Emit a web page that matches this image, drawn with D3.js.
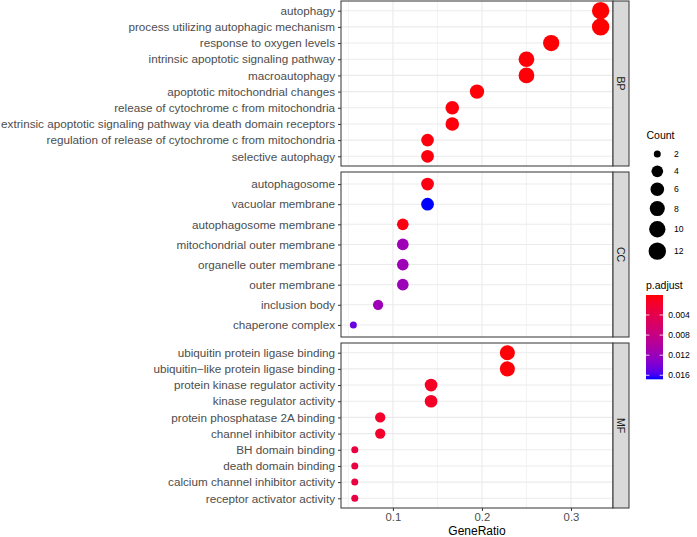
<!DOCTYPE html>
<html>
<head>
<meta charset="utf-8">
<script src="https://cdn.jsdelivr.net/npm/d3@7"></script>
<style>
	body { margin: 0; background: #fff; }
	text { font-family: "Liberation Sans", Arial, sans-serif; }
</style>
</head>
<body>
<div class="chart"></div>
<script>
// GO enrichment dot plot, three facets

const bpTerms = [
	"autophagy",
	"process utilizing autophagic mechanism",
	"response to oxygen levels",
	"intrinsic apoptotic signaling pathway",
	"macroautophagy",
	"apoptotic mitochondrial changes",
	"release of cytochrome c from mitochondria",
	"extrinsic apoptotic signaling pathway via death domain receptors",
	"regulation of release of cytochrome c from mitochondria",
	"selective autophagy"
]
const bpCount = [12, 12, 10, 9, 9, 7, 6, 6, 5, 5]
const bpRatio = ["12/36", "12/36", "10/36", "9/36", "9/36", "7/36", "6/36", "6/36", "5/36", "5/36"]
const bpPadj = [0.00002, 0.00002, 0.0001, 0.0002, 0.0002, 0.0002, 0.0003, 0.0003, 0.0004, 0.0004]

const ccTerms = [
	"autophagosome",
	"vacuolar membrane",
	"autophagosome membrane",
	"mitochondrial outer membrane",
	"organelle outer membrane",
	"outer membrane",
	"inclusion body",
	"chaperone complex"
]
const ccCount = [5, 5, 4, 4, 4, 4, 3, 2]
const ccRatio = ["5/36", "5/36", "4/36", "4/36", "4/36", "4/36", "3/36", "2/36"]
const ccPadj = [0.0005, 0.0168, 0.0005, 0.0117, 0.0117, 0.0118, 0.0117, 0.0148]

const mfTerms = [
	"ubiquitin protein ligase binding",
	"ubiquitin\u2212like protein ligase binding",
	"protein kinase regulator activity",
	"kinase regulator activity",
	"protein phosphatase 2A binding",
	"channel inhibitor activity",
	"BH domain binding",
	"death domain binding",
	"calcium channel inhibitor activity",
	"receptor activator activity"
]
const mfCount = [8, 8, 5, 5, 3, 3, 2, 2, 2, 2]
const mfRatio = ["8/35", "8/35", "5/35", "5/35", "3/35", "3/35", "2/35", "2/35", "2/35", "2/35"]
const mfPadj = [0.0002, 0.0002, 0.0014, 0.0015, 0.0019, 0.0019, 0.0032, 0.0032, 0.0032, 0.0033]

const xTicks = [0.1, 0.2, 0.3]
const countBreaks = [2, 4, 6, 8, 10, 12]
const padjBreaks = [0.004, 0.008, 0.012, 0.016]

const svgWidth = 697
const svgHeight = 537

let panelLeft = 341
let panelRight = 613
let stripWidth = 16
let panelTop = 1
let panelGap = 6
let panelHeight = 165

function parseRatio(s) {
	let parts = s.split("/")
	return +parts[0] / +parts[1]
}

function makeRows(terms, counts, ratios, padj) {
	return terms.map((t, i) => ({
		term: t,
		count: counts[i],
		ratio: parseRatio(ratios[i]),
		padj: padj[i]
	}))
}

let facets = [
	{ name: "BP", rows: makeRows(bpTerms, bpCount, bpRatio, bpPadj) },
	{ name: "CC", rows: makeRows(ccTerms, ccCount, ccRatio, ccPadj) },
	{ name: "MF", rows: makeRows(mfTerms, mfCount, mfRatio, mfPadj) }
]

let allRows = facets.flatMap(f => f.rows)

let svg = d3.select(".chart")
	.append("svg")
	.attr("width", svgWidth)
	.attr("height", svgHeight)

// x scale with ggplot style 5% expansion
let xExt = d3.extent(allRows, d => d.ratio)
let xPad = (xExt[1] - xExt[0]) * 0.05
let xScale = d3.scaleLinear()
	.domain([xExt[0] - xPad, xExt[1] + xPad])
	.range([panelLeft, panelRight])

let countExt = d3.extent(allRows, d => d.count)
let rScale = d3.scaleLinear()
	.domain([0, 1])
	.range([3.5, 8.7])
function radius(c) {
	return rScale(Math.sqrt((c - countExt[0]) / (countExt[1] - countExt[0])))
}

let padjExt = d3.extent(allRows, d => d.padj)
let colorScale = d3.scaleLinear()
	.domain(padjExt)
	.range(["red", "blue"])
	.interpolate(d3.interpolateLab)

let minorTicks = xTicks.map(v => v - 0.05).concat([xTicks[xTicks.length - 1] + 0.05])
	.filter(v => v >= xScale.domain()[0] && v <= xScale.domain()[1])

facets.forEach((f, i) => {
	let top = panelTop + i * (panelHeight + panelGap)
	let bottom = top + panelHeight

	let yScale = d3.scalePoint()
		.domain(f.rows.map(d => d.term))
		.range([top, bottom])
		.padding(0.6)

	let g = svg.append("g")

	g.append("rect")
		.attr("x", panelLeft)
		.attr("y", top)
		.attr("width", panelRight - panelLeft)
		.attr("height", panelHeight)
		.attr("fill", "#fff")

	// grid
	g.selectAll(".minor")
		.data(minorTicks)
		.enter()
		.append("line")
		.attr("x1", d => xScale(d))
		.attr("x2", d => xScale(d))
		.attr("y1", top)
		.attr("y2", bottom)
		.attr("stroke", "#ebebeb")
		.attr("stroke-width", 0.6)

	g.selectAll(".major")
		.data(xTicks)
		.enter()
		.append("line")
		.attr("x1", d => xScale(d))
		.attr("x2", d => xScale(d))
		.attr("y1", top)
		.attr("y2", bottom)
		.attr("stroke", "#ebebeb")
		.attr("stroke-width", 1.1)

	g.selectAll(".hgrid")
		.data(f.rows)
		.enter()
		.append("line")
		.attr("x1", panelLeft)
		.attr("x2", panelRight)
		.attr("y1", d => yScale(d.term))
		.attr("y2", d => yScale(d.term))
		.attr("stroke", "#ebebeb")
		.attr("stroke-width", 1.1)

	// points
	g.selectAll("circle")
		.data(f.rows)
		.enter()
		.append("circle")
		.attr("cx", d => xScale(d.ratio))
		.attr("cy", d => yScale(d.term))
		.attr("r", d => radius(d.count))
		.attr("fill", d => colorScale(d.padj))

	g.append("rect")
		.attr("x", panelLeft)
		.attr("y", top)
		.attr("width", panelRight - panelLeft)
		.attr("height", panelHeight)
		.attr("fill", "none")
		.attr("stroke", "#333")
		.attr("stroke-width", 1)

	// y axis
	let leftAxis = d3.axisLeft(yScale).tickSize(3).tickPadding(3)
	let yAxis = g.append("g")
		.attr("transform", `translate(${panelLeft}, 0)`)
		.call(leftAxis)
	yAxis.select(".domain").remove()
	yAxis.selectAll("line").attr("stroke", "#333")
	yAxis.selectAll("text")
		.attr("fill", "#4d4d4d")
		.style("font-size", "11.7px")
		.style("font-family", "'Liberation Sans', Arial, sans-serif")

	// strip
	g.append("rect")
		.attr("x", panelRight)
		.attr("y", top)
		.attr("width", stripWidth)
		.attr("height", panelHeight)
		.attr("fill", "#d9d9d9")
		.attr("stroke", "#333")
		.attr("stroke-width", 1)

	g.append("text")
		.attr("transform", `translate(${panelRight + stripWidth / 2}, ${top + panelHeight / 2}) rotate(90)`)
		.attr("text-anchor", "middle")
		.attr("dy", "0.35em")
		.attr("fill", "#1a1a1a")
		.style("font-size", "10.5px")
		.text(f.name)

	if (i == facets.length - 1) {
		let bottomAxis = d3.axisBottom(xScale)
			.tickValues(xTicks)
			.tickFormat(d3.format(".1f"))
			.tickSize(3)
			.tickPadding(2)
		let xAxis = g.append("g")
			.attr("transform", `translate(0, ${bottom})`)
			.call(bottomAxis)
		xAxis.select(".domain").remove()
		xAxis.selectAll("line").attr("stroke", "#333")
		xAxis.selectAll("text")
			.attr("fill", "#4d4d4d")
			.style("font-size", "11.3px")
			.style("font-family", "'Liberation Sans', Arial, sans-serif")

		g.append("text")
			.attr("x", (panelLeft + panelRight) / 2)
			.attr("y", 534.5)
			.attr("text-anchor", "middle")
			.attr("fill", "#000")
			.style("font-size", "12px")
			.text("GeneRatio")
	}
})

// size legend
let legendX = 646.5
let sizeLegend = svg.append("g")

sizeLegend.append("text")
	.attr("x", legendX)
	.attr("y", 139)
	.style("font-size", "10.5px")
	.text("Count")

let keyY = 154 - 17.3 / 2
countBreaks.forEach(c => {
	let r = radius(c)
	let h = Math.max(17.3, 2 * r + 5)
	let cy = keyY + h / 2
	sizeLegend.append("circle")
		.attr("cx", 657.3)
		.attr("cy", cy)
		.attr("r", r)
		.attr("fill", "#000")
	sizeLegend.append("text")
		.attr("x", 674)
		.attr("y", cy)
		.attr("dy", "0.35em")
		.style("font-size", "8.6px")
		.text(c)
	keyY += h
})

// colour legend
let barTop = 295
let barBottom = 379.3
let barX = 646
let barW = 17

let colorLegend = svg.append("g")

colorLegend.append("text")
	.attr("x", legendX - 0.5)
	.attr("y", 289)
	.style("font-size", "10.5px")
	.text("p.adjust")

let grad = svg.append("defs")
	.append("linearGradient")
	.attr("id", "padj-grad")
	.attr("x1", 0).attr("y1", 0)
	.attr("x2", 0).attr("y2", 1)

d3.range(0, 1.0001, 0.05).forEach(t => {
	grad.append("stop")
		.attr("offset", t)
		.attr("stop-color", colorScale(padjExt[0] + t * (padjExt[1] - padjExt[0])))
})

colorLegend.append("rect")
	.attr("x", barX)
	.attr("y", barTop)
	.attr("width", barW)
	.attr("height", barBottom - barTop)
	.attr("fill", "url(#padj-grad)")

let barScale = d3.scaleLinear()
	.domain(padjExt)
	.range([barTop, barBottom])

padjBreaks.forEach(p => {
	let y = barScale(p)
	colorLegend.append("line")
		.attr("x1", barX).attr("x2", barX + 3.4)
		.attr("y1", y).attr("y2", y)
		.attr("stroke", "#fff")
		.attr("stroke-opacity", 0.8)
	colorLegend.append("line")
		.attr("x1", barX + barW - 3.4).attr("x2", barX + barW)
		.attr("y1", y).attr("y2", y)
		.attr("stroke", "#fff")
		.attr("stroke-opacity", 0.8)
	colorLegend.append("text")
		.attr("x", 668.3)
		.attr("y", y)
		.attr("dy", "0.35em")
		.style("font-size", "8.6px")
		.text(d3.format(".3f")(p))
})
</script>
</body>
</html>
